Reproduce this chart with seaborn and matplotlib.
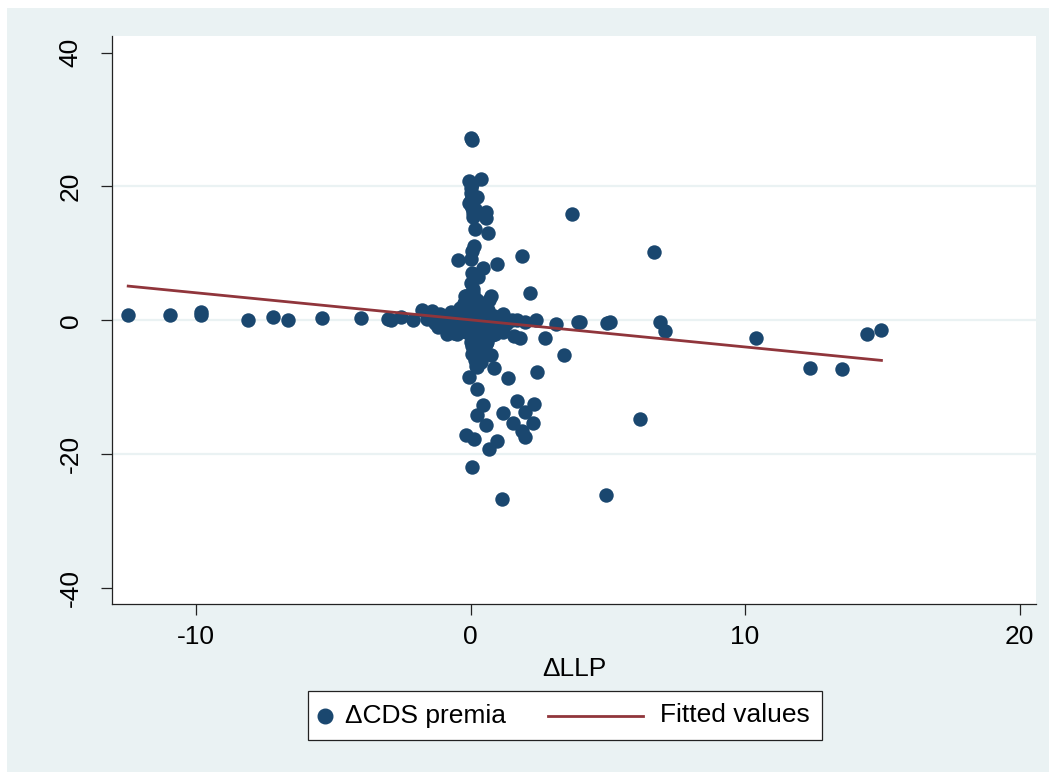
import numpy as np
import pandas as pd
import matplotlib
matplotlib.use("Agg")
import matplotlib.pyplot as plt
from matplotlib.patches import Rectangle
from matplotlib.lines import Line2D
import seaborn as sns

# data: change in loan loss provisions vs change in CDS premia
llp = [
    # left arm
    -12.47, -10.95, -9.82, -9.8, -8.1, -7.2, -6.65, -5.4, -4.0, -3.0, -2.9,
    -2.55, -2.1, -1.75, -1.6, -1.4, -1.3, -1.1, -1.0, -0.85, -0.8, -0.7, -0.6,
    -0.5, -0.45, -0.4, -0.3, -0.25, -0.2, -0.15, -0.1, -0.05, 0.0,
    # upper arm
    0.0, 0.05, -0.04, 0.4, 0.0, 0.02, 0.0, 0.25, -0.05, 0.05, 0.1, 0.08,
    0.58, 0.58, 0.18, 0.62, 0.11, 0.07, -0.44, 0.0, 1.89, 0.98, 0.44, 0.07,
    0.29, 0.0, 0.1, 2.15, 0.73, 0.66, -0.18, 0.0, 0.2, -0.1, 0.05, 0.03, 0.15,
    # right band
    0.3, 0.5, 0.7, 0.9, 1.0, 1.17, 1.3, 1.5, 1.71, 1.82, 2.0, 2.37, 2.7, 3.1,
    3.93, 1.2, 1.6, 0.8,
    # lower arm
    0.0, 0.1, 0.3, 0.0, 0.4, 0.2, 0.73, 0.07, 0.25, 0.84, -0.07, 1.38, 2.44,
    0.25, 0.44, 1.71, 2.3, 0.25, 1.2, 2.0, 1.53, 2.26, 0.58, 1.89, 2.0, -0.15,
    0.11, 0.95, 0.66, 0.07, 1.13, 0.35,
    # centre blob
    -0.9, -0.6, -0.35, -0.2, 0.15, 0.35, 0.55, 0.6, 0.75, 0.45, -0.5, 0.2,
    0.1, -0.3, 0.85, 1.0, 0.4, -0.7, 0.25, 0.5, 0.3, 0.6, 0.5, 0.15,
    -1.2, -0.95, -0.6, -0.3, 0.05, 0.3, 0.55, 0.8, 1.1, 0.1, 0.35, 0.05,
    0.4, 0.2, 0.55, -0.15, 0.65, 0.9,
    # right outliers
    3.68, 6.7, 4.0, 4.97, 5.07, 6.92, 7.1, 10.4, 12.35, 13.55, 14.43, 14.97,
    6.19, 4.92, 3.42,
]
cds = [
    0.75, 0.75, 1.2, 0.8, 0.0, 0.45, 0.0, 0.3, 0.3, 0.25, 0.1,
    0.45, 0.0, 1.6, 0.2, 1.35, -0.4, 0.9, -0.9, -2.0, 0.5, 1.2, -1.3,
    -2.1, 0.2, 1.8, -0.6, 2.6, 3.6, -1.8, 0.8, 1.5, -0.2,
    27.3, 26.9, 20.8, 21.1, 19.8, 19.0, 18.0, 18.4, 17.5, 16.8, 16.0, 15.4,
    16.2, 15.3, 13.6, 13.0, 11.1, 10.4, 9.0, 9.1, 9.6, 8.4, 7.8, 7.0,
    6.4, 5.5, 4.6, 4.0, 3.6, 3.0, 3.6, 2.8, 2.2, 2.0, 20.4, 17.2, 16.6,
    0.5, -0.3, 0.4, -0.8, 0.2, 1.0, -0.5, 0.0, 0.0, -2.7, -0.3, 0.0, -2.7, -0.6,
    -0.3, -1.8, -2.4, -2.2,
    -1.0, -2.5, -1.5, -3.2, -3.0, -4.0, -5.2, -5.0, -7.0, -7.2, -8.5, -8.7, -7.8,
    -10.3, -12.7, -12.1, -12.6, -14.2, -13.9, -13.8, -15.3, -15.3, -15.6, -16.5, -17.4, -17.1,
    -17.7, -18.1, -19.2, -22.0, -26.7, -5.7,
    -0.3, 0.6, -0.9, 0.4, -0.5, 1.1, 0.9, -1.2, -0.3, -2.2, 1.0, 1.4,
    -1.2, -1.4, 0.6, -1.4, 0.0, -0.5, 3.0, 2.0, -3.8, -3.3, -4.5, -6.0,
    -1.0, 0.3, -1.9, 1.9, -2.8, -2.6, -1.8, -1.5, -0.9, 4.0, -4.9, -3.9,
    -6.3, -6.8, -3.6, -1.0, 1.6, -2.0,
    15.9, 10.2, -0.3, -0.4, -0.3, -0.3, -1.6, -2.7, -7.2, -7.3, -2.1, -1.4,
    -14.8, -26.2, -5.2,
]
# fitted OLS line
fit_const = 0.05
fit_slope = -0.405

df = pd.DataFrame({"dLLP": llp, "dCDS": cds})
x_fit = np.array([df["dLLP"].min(), df["dLLP"].max()])
fit = pd.DataFrame({"dLLP": x_fit, "fitted": fit_const + fit_slope * x_fit})

navy = "#1a476f"
maroon = "#90353b"
bg = "#eaf2f3"

plt.rcParams["font.family"] = ["Liberation Sans", "DejaVu Sans"]
plt.rcParams["axes.unicode_minus"] = False

fig = plt.figure(figsize=(10.49, 7.72), dpi=100)
fig.patch.set_facecolor("white")
fig.add_artist(Rectangle((7 / 1049, 0), 1 - 7 / 1049, 764 / 772,
                         transform=fig.transFigure, facecolor=bg,
                         edgecolor="none", zorder=-10))

ax = fig.add_axes([112 / 1049, 168 / 772, 924 / 1049, 568 / 772])
ax.set_facecolor("white")

for g in [-20, 0, 20]:
    ax.axhline(g, color=bg, lw=1.6, zorder=0)

sns.scatterplot(data=df, x="dLLP", y="dCDS", ax=ax, color=navy, s=108,
                edgecolor=navy, linewidth=0, zorder=2, legend=False)
sns.lineplot(data=fit, x="dLLP", y="fitted", ax=ax, color=maroon, lw=2.0,
             zorder=3, legend=False)

ax.set_xlim(-13.06, 20.6)
ax.set_ylim(-42.44, 42.5)
ax.set_xticks([-10, 0, 10, 20])
ax.set_yticks([-40, -20, 0, 20, 40])
ax.set_xlabel("ΔLLP", fontsize=19, labelpad=6)
ax.set_ylabel("")
for s in ["top", "right"]:
    ax.spines[s].set_visible(False)
for s in ["left", "bottom"]:
    ax.spines[s].set_color("#222222")
    ax.spines[s].set_linewidth(0.9)
ax.tick_params(axis="both", direction="out", length=8, width=0.9,
               color="#222222", labelsize=19)
ax.tick_params(axis="x", pad=7)
ax.tick_params(axis="y", pad=13)
for lab in ax.get_yticklabels():
    lab.set_rotation(90)
    lab.set_va("center")

# legend box below the plot
fig.add_artist(Rectangle((308 / 1049, 32 / 772), 514 / 1049, 49 / 772,
                         transform=fig.transFigure, facecolor="white",
                         edgecolor="#222222", lw=0.9))
ly = 56.5 / 772
fig.add_artist(Line2D([325 / 1049], [ly], transform=fig.transFigure,
                      marker="o", markersize=10.5, color=navy, lw=0))
fig.text(345 / 1049, ly, "ΔCDS premia", fontsize=19, va="center", ha="left")
fig.add_artist(Line2D([548 / 1049, 643 / 1049], [ly, ly],
                      transform=fig.transFigure, color=maroon, lw=2.0))
fig.text(660 / 1049, ly, "Fitted values", fontsize=19, va="center", ha="left")

fig.savefig("out.png", dpi=100)
